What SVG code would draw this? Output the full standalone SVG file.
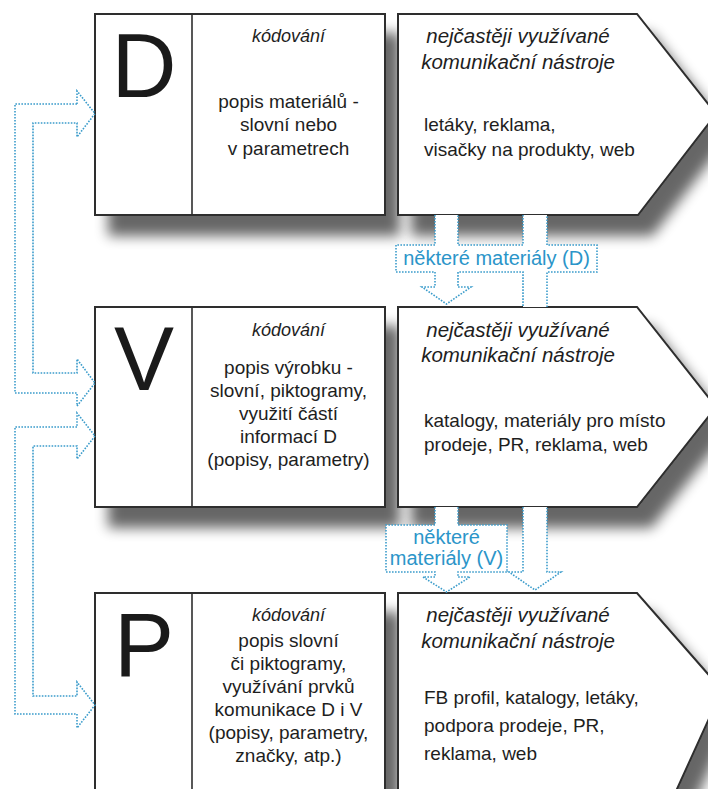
<svg xmlns="http://www.w3.org/2000/svg" width="708" height="789" viewBox="0 0 708 789">
  <defs>
    <filter id="drop" x="-10%" y="-10%" width="130%" height="150%">
      <feGaussianBlur in="SourceAlpha" stdDeviation="6.5"/>
      <feOffset dx="14" dy="20" result="blur"/>
      <feComponentTransfer>
        <feFuncA type="linear" slope="0.6"/>
      </feComponentTransfer>
      <feMerge>
        <feMergeNode/>
        <feMergeNode in="SourceGraphic"/>
      </feMerge>
    </filter>
  </defs>
  <style>
    .box { fill: #ffffff; stroke: #2e2e2e; stroke-width: 2; }
    .div { stroke: #2e2e2e; stroke-width: 1.6; fill: none; }
    .big { font-family: "Liberation Sans", Arial, sans-serif; font-size: 90px; fill: #1a1a1a; text-anchor: middle; }
    .code { font-family: "Liberation Sans", Arial, sans-serif; font-size: 18px; font-style: italic; fill: #1e1e1e; text-anchor: middle; }
    .mid { font-family: "Liberation Sans", Arial, sans-serif; font-size: 19px; fill: #1e1e1e; text-anchor: middle; }
    .head { font-family: "Liberation Sans", Arial, sans-serif; font-size: 20.5px; font-style: italic; fill: #1e1e1e; text-anchor: middle; }
    .body { font-family: "Liberation Sans", Arial, sans-serif; font-size: 19px; fill: #1e1e1e; }
    .fillw { fill: #ffffff; stroke: none; }
    .dot { fill: none; stroke: #3b9ccb; stroke-width: 1.6; stroke-dasharray: 1.6 1.4; }
    .lab { font-family: "Liberation Sans", Arial, sans-serif; font-size: 20px; fill: #2b95c9; text-anchor: middle; }
  </style>

  <rect width="708" height="789" fill="#ffffff"/>

  <!-- row D -->
  <g id="node-D">
    <rect class="box" x="95" y="14" width="290" height="201" filter="url(#drop)"/>
    <line class="div" x1="192" y1="14" x2="192" y2="215"/>
    <text class="big" x="144" y="97">D</text>
    <text class="code" x="288.5" y="42">kódování</text>
    <text class="mid" x="288.5" y="108">popis materiálů -</text>
    <text class="mid" x="288.5" y="131">slovní nebo</text>
    <text class="mid" x="288.5" y="155">v parametrech</text>
  </g>
  <g id="tools-D">
    <polygon class="box" points="398,14 637,14 716,114 638,215 398,215" filter="url(#drop)"/>
    <text class="head" x="518" y="43">nejčastěji využívané</text>
    <text class="head" x="518" y="69">komunikační nástroje</text>
    <text class="body" x="424" y="131">letáky, reklama,</text>
    <text class="body" x="424" y="156">visačky na produkty, web</text>
  </g>

  <!-- row V -->
  <g id="node-V">
    <rect class="box" x="95" y="307" width="290" height="200" filter="url(#drop)"/>
    <line class="div" x1="192" y1="307" x2="192" y2="507"/>
    <text class="big" x="144" y="390">V</text>
    <text class="code" x="288.5" y="336">kódování</text>
    <text class="mid" x="288.5" y="374">popis výrobku -</text>
    <text class="mid" x="288.5" y="397">slovní, piktogramy,</text>
    <text class="mid" x="288.5" y="420">využití částí</text>
    <text class="mid" x="288.5" y="443">informací D</text>
    <text class="mid" x="288.5" y="466">(popisy, parametry)</text>
  </g>
  <g id="tools-V">
    <polygon class="box" points="398,307 637,307 716,407 637,507 398,507" filter="url(#drop)"/>
    <text class="head" x="518" y="337">nejčastěji využívané</text>
    <text class="head" x="518" y="362">komunikační nástroje</text>
    <text class="body" x="424" y="427">katalogy, materiály pro místo</text>
    <text class="body" x="424" y="451">prodeje, PR, reklama, web</text>
  </g>

  <!-- row P -->
  <g id="node-P">
    <rect class="box" x="95" y="593" width="290" height="220" filter="url(#drop)"/>
    <line class="div" x1="192" y1="593" x2="192" y2="813"/>
    <text class="big" x="144" y="676">P</text>
    <text class="code" x="288.5" y="621">kódování</text>
    <text class="mid" x="288.5" y="647">popis slovní</text>
    <text class="mid" x="288.5" y="670">či piktogramy,</text>
    <text class="mid" x="288.5" y="693">využívání prvků</text>
    <text class="mid" x="288.5" y="716">komunikace D i V</text>
    <text class="mid" x="288.5" y="739">(popisy, parametry,</text>
    <text class="mid" x="288.5" y="762">značky, atp.)</text>
  </g>
  <g id="tools-P">
    <polygon class="box" points="398,593 637,593 722,690 672,800 398,800" filter="url(#drop)"/>
    <text class="head" x="518" y="622">nejčastěji využívané</text>
    <text class="head" x="518" y="648">komunikační nástroje</text>
    <text class="body" x="424" y="704">FB profil, katalogy, letáky,</text>
    <text class="body" x="424" y="732">podpora prodeje, PR,</text>
    <text class="body" x="424" y="760">reklama, web</text>
  </g>

  <!-- connectors -->
  <g id="connectors">
    <!-- D <-> V double hollow arrow on the left -->
    <path class="dot" d="M77,104 H15 V393 H77 V406 L95,383 L77,359 V373 H33 V123 H77 V137 L95,113.5 L77,91 Z"/>
    <!-- V <-> P double hollow arrow on the left -->
    <path class="dot" d="M77,427 H15 V714 H77 V728 L95,705 L77,682 V696 H33 V446 H77 V459 L95,436 L77,413 Z"/>

    <!-- D -> V / D -> P materials -->
    <polygon class="fillw" points="435,215 435,245 396,245 396,272 435,272 435,287 422,287 446.5,304 471,287 458,287 458,272 523,272 523,307 547,307 547,272 597,272 597,245 547,245 547,215 523,215 523,245 458,245 458,215"/>
    <path class="dot" d="M435,215 V245 H396 V272 H435 V287 H422 L446.5,304 L471,287 H458 V272 H523 V307 M547,307 V272 H597 V245 H547 V215 M523,215 V245 H458 V215"/>
    <text class="lab" x="496.5" y="265">některé materiály (D)</text>

    <!-- V -> P materials -->
    <polygon class="fillw" points="435,507 435,525 386,525 386,572 435,572 435,577 423,577 446.5,592 470,577 458,577 458,572 507,572 507,525 458,525 458,507"/>
    <path class="dot" d="M435,507 V525 H386 V572 H435 V577 H423 L446.5,592 L470,577 H458 V572 H507 V525 H458 V507"/>
    <text class="lab" x="446.5" y="544">některé</text>
    <text class="lab" x="446.5" y="565">materiály (V)</text>

    <!-- D -> P shaft continuing below V -->
    <polygon class="fillw" points="523,507 523,572 509,572 535,590 561,572 547,572 547,507"/>
    <path class="dot" d="M523,507 V572 H509 L535,590 L561,572 H547 V507"/>
  </g>
</svg>
